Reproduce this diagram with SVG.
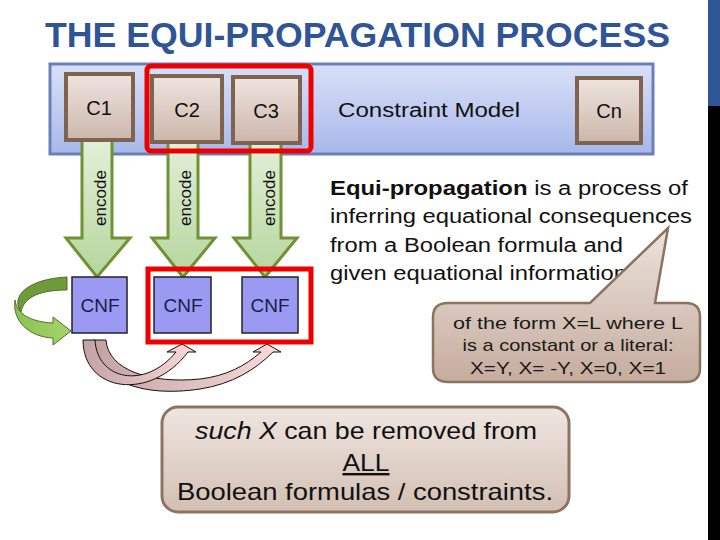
<svg xmlns="http://www.w3.org/2000/svg" width="720" height="540" viewBox="0 0 720 540">
<defs>
<linearGradient id="gPanel" x1="0" y1="0" x2="0" y2="1"><stop offset="0" stop-color="#D9E1F7"/><stop offset="1" stop-color="#A8B7EA"/></linearGradient>
<linearGradient id="gBox" x1="0" y1="0" x2="0" y2="1"><stop offset="0" stop-color="#EEE4DF"/><stop offset="1" stop-color="#CDB6AB"/></linearGradient>
<linearGradient id="gEnc" x1="0" y1="0" x2="0" y2="1"><stop offset="0" stop-color="#E4F0DA"/><stop offset="1" stop-color="#B5D69C"/></linearGradient>
<linearGradient id="gCall" x1="0" y1="0" x2="0" y2="1"><stop offset="0" stop-color="#EDE3DD"/><stop offset="1" stop-color="#C5AC9E"/></linearGradient>
<linearGradient id="gNote" x1="0" y1="0" x2="0" y2="1"><stop offset="0" stop-color="#EFE6E0"/><stop offset="1" stop-color="#D3BFB3"/></linearGradient>
<linearGradient id="gPink" x1="0" y1="0" x2="1" y2="0"><stop offset="0" stop-color="#C4A2A2"/><stop offset="1" stop-color="#FADADA"/></linearGradient>
<linearGradient id="gGreen" x1="0" y1="0" x2="1" y2="0"><stop offset="0" stop-color="#8CC152"/><stop offset="1" stop-color="#A6D46E"/></linearGradient>
</defs>
<style>
.c{font-family:"Liberation Sans",Arial,sans-serif;fill:#111}
.box{fill:url(#gBox);stroke:#7E6450;stroke-width:4}
.enc{fill:url(#gEnc);stroke:#6E9234;stroke-width:3;stroke-linejoin:miter}
.cnf{fill:#9A9AF2;stroke:#222;stroke-width:1.5}
.red{fill:none;stroke:#EE0000;stroke-width:5}
.pink{fill:url(#gPink);stroke:#111;stroke-width:1}
</style>
<rect width="720" height="540" fill="#FFFFFF"/>
<rect x="708" y="0" width="12" height="106" fill="#2F5597"/>
<rect x="708" y="106" width="12" height="434" fill="#000000"/>
<text x="45" y="47" class="c" font-size="35" font-weight="bold" style="fill:#2F5597" textLength="625" lengthAdjust="spacingAndGlyphs">THE EQUI-PROPAGATION PROCESS</text>

<g id="model">
<rect x="50" y="64" width="603" height="90" fill="url(#gPanel)" stroke="#6B80B8" stroke-width="3"/>
<text x="338" y="117" class="c" font-size="20" textLength="182" lengthAdjust="spacingAndGlyphs">Constraint Model</text>
</g>

<g id="connectors">
<g id="encode1">
<path class="enc" d="M82 138 H112 V238 H130 L97 277 L66 238 H82 Z"/>
<text class="c" font-size="17" text-anchor="middle" transform="translate(106,198) rotate(-90)">encode</text>
</g>
<g id="encode2">
<path class="enc" d="M168 138 H198 V238 H215 L183 277 L152 238 H168 Z"/>
<text class="c" font-size="17" text-anchor="middle" transform="translate(191,198) rotate(-90)">encode</text>
</g>
<g id="encode3">
<path class="enc" d="M250 138 H281 V238 H297 L265 277 L234 238 H250 Z"/>
<text class="c" font-size="17" text-anchor="middle" transform="translate(275,198) rotate(-90)">encode</text>
</g>
<g id="loop">
<path d="M67 277 L67 290 C42 290 24 296 21 312 C10 296 28 279 67 277 Z" fill="#6F9A3A" stroke="#4F6F25" stroke-width="1"/>
<path d="M15 300 C17 316 34 322 53 323 L53 317 L71 331 L53 345 L53 338 C30 337 12 322 15 300 Z" fill="url(#gGreen)" stroke="#4F6F25" stroke-width="1"/>
</g>
<g id="prop3">
<path class="pink" d="M94 340 C94 380 140 398 200 389 C232 384 255 370 273 352 L281 352 L267 344 L253 352 L261 352 C245 366 226 376 200 379 C150 384 108 370 106 340 Z"/>
</g>
<g id="prop2">
<path class="pink" d="M83 340 C83 392 150 402 188 352 L196 352 L182 344 L167 352 L176 352 C145 390 97 380 95 340 Z"/>
</g>
</g>

<g id="C1"><rect class="box" x="66" y="74" width="67" height="66"/><text x="99" y="115" class="c" font-size="20" text-anchor="middle">C1</text></g>
<g id="C2"><rect class="box" x="152" y="76" width="70" height="66"/><text x="187" y="117" class="c" font-size="20" text-anchor="middle">C2</text></g>
<g id="C3"><rect class="box" x="233" y="77" width="67" height="66"/><text x="266" y="118" class="c" font-size="20" text-anchor="middle">C3</text></g>
<g id="Cn"><rect class="box" x="577" y="78" width="64" height="65"/><text x="609" y="118" class="c" font-size="20" text-anchor="middle">Cn</text></g>
<rect class="red" x="147" y="66" width="164" height="85" rx="4"/>

<rect class="red" x="148" y="269" width="163" height="73"/>
<g id="CNF1"><rect class="cnf" x="72" y="277" width="55" height="56"/><text x="100" y="312" class="c" font-size="19" text-anchor="middle" style="fill:#1C1C48">CNF</text></g>
<g id="CNF2"><rect class="cnf" x="154" y="277" width="57" height="56"/><text x="183" y="312" class="c" font-size="19" text-anchor="middle" style="fill:#1C1C48">CNF</text></g>
<g id="CNF3"><rect class="cnf" x="242" y="277" width="56" height="56"/><text x="270" y="312" class="c" font-size="19" text-anchor="middle" style="fill:#1C1C48">CNF</text></g>

<g id="definition">
<text class="c" font-size="20" x="330" y="195" textLength="358" lengthAdjust="spacingAndGlyphs"><tspan font-weight="bold">Equi-propagation</tspan> is a process of</text>
<text class="c" font-size="20" x="330" y="223" textLength="362" lengthAdjust="spacingAndGlyphs">inferring equational consequences</text>
<text class="c" font-size="20" x="330" y="252" textLength="293" lengthAdjust="spacingAndGlyphs">from a Boolean formula and</text>
<text class="c" font-size="20" x="330" y="280" textLength="297" lengthAdjust="spacingAndGlyphs">given equational information</text>
</g>

<g id="callout">
<path d="M448 303 H590 L668 228 L655 303 H686 Q700 303 700 317 V368 Q700 382 686 382 H448 Q433 382 433 368 V317 Q433 303 448 303 Z" fill="url(#gCall)" stroke="#8B7360" stroke-width="2.5"/>
<text class="c" font-size="17" x="568" y="329" text-anchor="middle" textLength="230" lengthAdjust="spacingAndGlyphs" style="fill:#1a1a1a">of the form  X=L  where  L</text>
<text class="c" font-size="17" x="568" y="351" text-anchor="middle" textLength="211" lengthAdjust="spacingAndGlyphs" style="fill:#1a1a1a">is a constant or a literal:</text>
<text class="c" font-size="17" x="568" y="374" text-anchor="middle" textLength="196" lengthAdjust="spacingAndGlyphs" style="fill:#1a1a1a">X=Y, X= -Y, X=0, X=1</text>
</g>

<g id="note">
<rect x="162" y="407" width="407" height="105" rx="16" fill="url(#gNote)" stroke="#8C7462" stroke-width="3"/>
<text class="c" font-size="24" x="366" y="439" text-anchor="middle" textLength="342" lengthAdjust="spacingAndGlyphs"><tspan font-style="italic">such X</tspan> can be removed from</text>
<text class="c" font-size="24" x="366" y="471" text-anchor="middle" text-decoration="underline" textLength="47" lengthAdjust="spacingAndGlyphs">ALL</text>
<text class="c" font-size="24" x="365" y="500" text-anchor="middle" textLength="376" lengthAdjust="spacingAndGlyphs">Boolean formulas / constraints.</text>
</g>
</svg>
